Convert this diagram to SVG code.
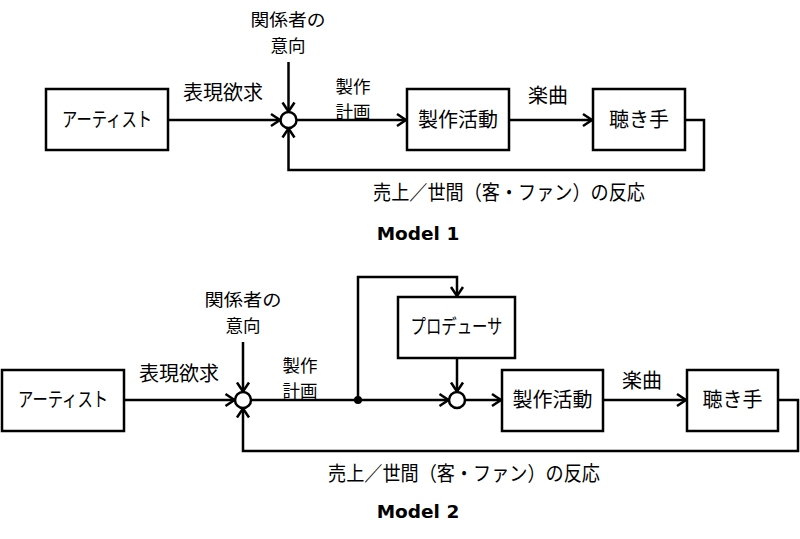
<svg xmlns="http://www.w3.org/2000/svg" width="800" height="539" viewBox="0 0 800 539">
<style>
.box{fill:#fff;stroke:#000;stroke-width:2.5}
.sum{fill:#fff;stroke:#000;stroke-width:2.5}
.ln{fill:none;stroke:#000;stroke-width:2.5}
.t{font-family:"Noto Sans CJK JP","Noto Sans",sans-serif;font-size:20px;fill:#000}
.s{font-size:17.5px}
.c{text-anchor:middle}
.cap{font-family:"DejaVu Sans","Liberation Sans",sans-serif;font-size:18.5px;font-weight:bold;text-anchor:middle;fill:#000}
</style>
<defs>
<marker id="ah" markerUnits="userSpaceOnUse" markerWidth="12" markerHeight="14" viewBox="0 0 12 14" refX="10" refY="7" orient="auto" overflow="visible">
<path d="M1,1 L10,7 L1,13" fill="none" stroke="#000" stroke-width="2.5"/>
</marker>
</defs>
<rect width="800" height="539" fill="#fff"/>

<!-- Model 1 -->
<g id="connectors1">
<path class="ln" d="M168,120 H280" marker-end="url(#ah)"/>
<path class="ln" d="M288.5,62 V111.5" marker-end="url(#ah)"/>
<path class="ln" d="M297,120 H406" marker-end="url(#ah)"/>
<path class="ln" d="M509,120 H592" marker-end="url(#ah)"/>
<path class="ln" d="M685,120 H704 V170 H288.5 V128.5" marker-end="url(#ah)"/>
</g>
<g id="m1-artist"><rect class="box" x="46" y="89" width="122" height="61"/><text class="t c" x="107" y="127" textLength="90" lengthAdjust="spacingAndGlyphs">アーティスト</text></g>
<g id="m1-sum"><circle class="sum" cx="288.5" cy="120" r="8"/></g>
<g id="m1-production"><rect class="box" x="407" y="89" width="102" height="61"/><text class="t c" x="458" y="127">製作活動</text></g>
<g id="m1-listener"><rect class="box" x="593" y="89" width="92" height="61"/><text class="t c" x="639" y="127">聴き手</text></g>
<g id="m1-labels">
<text class="t c s" x="288" y="26" textLength="75" lengthAdjust="spacingAndGlyphs">関係者の</text>
<text class="t c s" x="288" y="51.5">意向</text>
<text class="t c" x="223" y="100">表現欲求</text>
<text class="t c s" x="353" y="92.5">製作</text>
<text class="t c s" x="353" y="118">計画</text>
<text class="t c" x="548" y="103">楽曲</text>
<text class="t" x="373" y="200" textLength="272" lengthAdjust="spacingAndGlyphs">売上／世間（客・ファン）の反応</text>
<text class="cap" x="418" y="240">Model 1</text>
</g>

<!-- Model 2 -->
<g id="connectors2">
<path class="ln" d="M124,400 H234.5" marker-end="url(#ah)"/>
<path class="ln" d="M243,342 V391.5" marker-end="url(#ah)"/>
<path class="ln" d="M251,400 H448.5" marker-end="url(#ah)"/>
<path class="ln" d="M358,400 V277 H457 V296" marker-end="url(#ah)"/>
<path class="ln" d="M457,358 V391.5" marker-end="url(#ah)"/>
<path class="ln" d="M465.5,400 H501" marker-end="url(#ah)"/>
<path class="ln" d="M603,400 H686" marker-end="url(#ah)"/>
<path class="ln" d="M778,400 H798 V451 H243 V408.5" marker-end="url(#ah)"/>
<circle cx="358" cy="400" r="4" fill="#000"/>
</g>
<g id="m2-artist"><rect class="box" x="2" y="370" width="122" height="61"/><text class="t c" x="63" y="407" textLength="90" lengthAdjust="spacingAndGlyphs">アーティスト</text></g>
<g id="m2-sum1"><circle class="sum" cx="243" cy="400" r="8"/></g>
<g id="m2-producer"><rect class="box" x="398" y="297" width="117" height="61"/><text class="t c" x="456.5" y="334" textLength="92" lengthAdjust="spacingAndGlyphs">プロデューサ</text></g>
<g id="m2-sum2"><circle class="sum" cx="457" cy="400" r="8"/></g>
<g id="m2-production"><rect class="box" x="502" y="370" width="101" height="61"/><text class="t c" x="552.5" y="407">製作活動</text></g>
<g id="m2-listener"><rect class="box" x="687" y="370" width="91" height="61"/><text class="t c" x="732.5" y="407">聴き手</text></g>
<g id="m2-labels">
<text class="t c s" x="243" y="306" textLength="77" lengthAdjust="spacingAndGlyphs">関係者の</text>
<text class="t c s" x="243" y="331.5">意向</text>
<text class="t c" x="179" y="381">表現欲求</text>
<text class="t c s" x="300" y="371.5">製作</text>
<text class="t c s" x="300" y="397">計画</text>
<text class="t c" x="642" y="388">楽曲</text>
<text class="t" x="328" y="481" textLength="272" lengthAdjust="spacingAndGlyphs">売上／世間（客・ファン）の反応</text>
<text class="cap" x="418" y="518">Model 2</text>
</g>
</svg>
